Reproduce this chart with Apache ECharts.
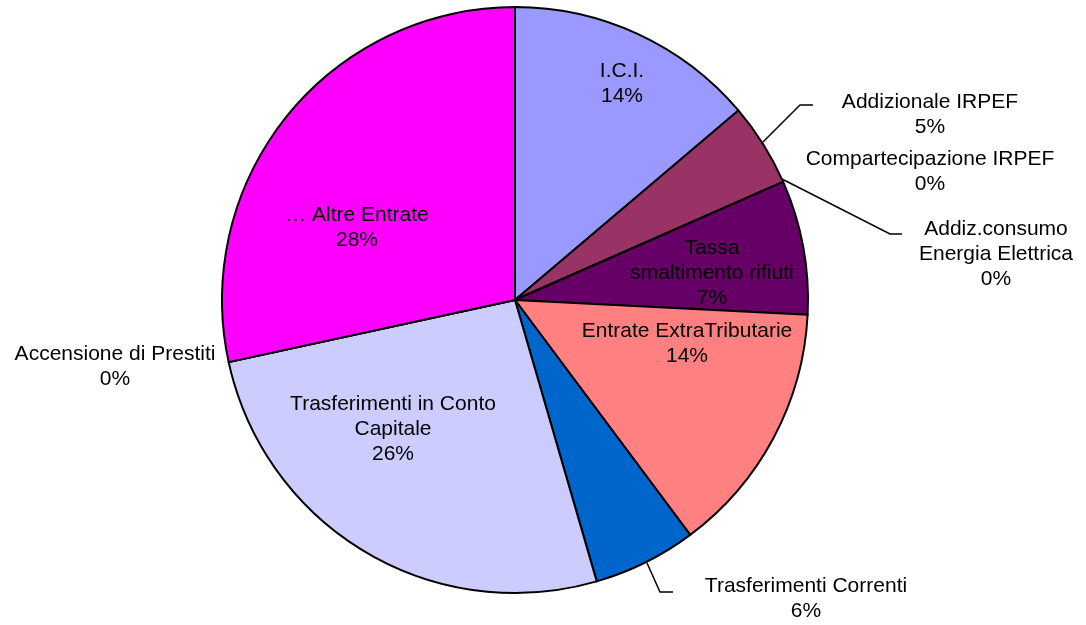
<!DOCTYPE html>
<html>
<head>
<meta charset="utf-8">
<script src="https://cdn.jsdelivr.net/npm/echarts@6/dist/echarts.min.js"></script>
<style>
  html, body { margin: 0; padding: 0; background: #fff; }
  #chart { width: 1086px; height: 625px; }
</style>
</head>
<body>
<div id="chart"></div>
<script>
// voci di entrata (clockwise from 12 o'clock)
var categories = [
  'I.C.I.',
  'Addizionale IRPEF',
  'Compartecipazione IRPEF',
  'Addiz.consumo\nEnergia Elettrica',
  'Tassa\nsmaltimento rifiuti',
  'Entrate ExtraTributarie',
  'Trasferimenti Correnti',
  'Trasferimenti in Conto\nCapitale',
  'Accensione di Prestiti',
  '\u2026 Altre Entrate'
];
var values = [13.8, 4.6, 0, 0, 7.4, 14.0, 5.7, 26.1, 0, 28.4];
var colors = ['#9999FF', '#993366', '#FFFFCC', '#CCFFFF', '#660066',
              '#FF8080', '#0066CC', '#CCCCFF', '#000080', '#FF00FF'];
var outside = [false, true, true, true, false, false, true, false, true, false];

// where each label sits, and the leader lines
var labelPos = [[622, 84], [930, 115], [930, 172], [996, 254], [712, 273],
                [687, 344], [806, 599], [393, 429], [115, 367], [357, 228]];
var leaders = {
  1: [[763, 142], [800, 105], [813, 105]],
  3: [[782, 179], [890, 234], [902, 234]],
  6: [[647, 563], [660, 592], [673, 592]]
};

var chart = echarts.init(document.getElementById('chart'));

var data = categories.map(function (name, i) {
  return {
    name: name,
    value: values[i],
    itemStyle: { color: colors[i] },
    label: { position: outside[i] ? 'outside' : 'inside' },
    labelLine: { show: !!leaders[i] }
  };
});

chart.setOption({
  animation: false,
  series: [{
    type: 'pie',
    center: [515, 300],
    radius: 293,
    startAngle: 90,
    clockwise: true,
    data: data,
    itemStyle: {
      borderColor: '#000',
      borderWidth: 2
    },
    label: {
      show: true,
      color: '#000',
      fontFamily: 'Liberation Sans, Arial, sans-serif',
      fontSize: 21,
      lineHeight: 25,
      align: 'center',
      overflow: 'none',
      formatter: function (p) {
        return p.name + '\n' + Math.round(p.percent) + '%';
      }
    },
    labelLine: {
      lineStyle: { color: '#000', width: 1.5 }
    },
    labelLayout: function (p) {
      var pos = labelPos[p.dataIndex];
      var res = {
        x: pos[0],
        y: pos[1],
        align: 'center',
        verticalAlign: 'middle'
      };
      if (leaders[p.dataIndex]) res.labelLinePoints = leaders[p.dataIndex];
      return res;
    }
  }]
});
</script>
</body>
</html>
